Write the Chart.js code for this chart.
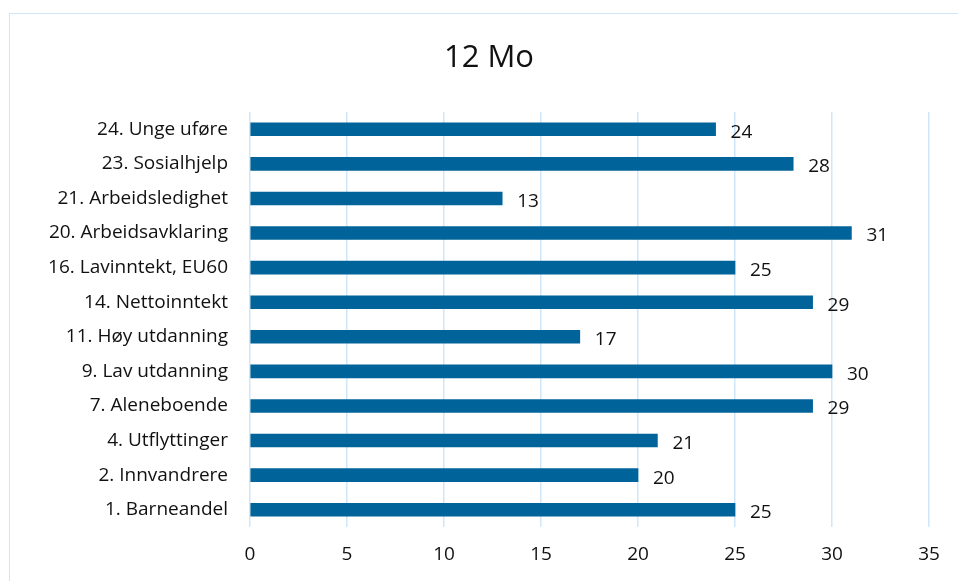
<!DOCTYPE html>
<html lang="no">
<head>
  <meta charset="UTF-8">
  <title>12 Mo</title>
  <script src="https://cdn.jsdelivr.net/npm/chart.js"></script>
  <style>
    body {
      margin: 0;
      background: #fff;
      overflow: hidden;
    }
    .frame {
      position: absolute;
      left: 9px;
      top: 13px;
      width: 980px;
      height: 600px;
      border-left: 1px solid #cfe6f8;
      border-top: 1px solid #cfe6f8;
    }
    canvas {
      position: absolute;
      left: 0;
      top: 0;
    }
  </style>
</head>
<body>
  <div class="frame"></div>
  <canvas id="chart" width="958" height="581"></canvas>

  <script>
    const categories = [
      '24. Unge uføre',
      '23. Sosialhjelp',
      '21. Arbeidsledighet',
      '20. Arbeidsavklaring',
      '16. Lavinntekt, EU60',
      '14. Nettoinntekt',
      '11. Høy utdanning',
      '9. Lav utdanning',
      '7. Aleneboende',
      '4. Utflyttinger',
      '2. Innvandrere',
      '1. Barneandel'
    ];
    const values = [24, 28, 13, 31, 25, 29, 17, 30, 29, 21, 20, 25];
    const xTicks = [0, 5, 10, 15, 20, 25, 30, 35];
    const chartTitle = '12 Mo';

    const FONT = '"Open Sans", Lato, sans-serif';

    // title is centred on the outer frame, not the canvas, so draw it here
    const frameTitle = {
      id: 'frameTitle',
      afterDraw(chart) {
        const ctx = chart.ctx;
        ctx.save();
        ctx.font = '31px ' + FONT;
        ctx.fillStyle = '#111';
        ctx.textAlign = 'center';
        ctx.textBaseline = 'middle';
        ctx.fillText(chartTitle, 489, 58);
        ctx.restore();
      }
    };

    // value labels right of each bar
    const valueLabels = {
      id: 'valueLabels',
      afterDatasetsDraw(chart) {
        const ctx = chart.ctx;
        const meta = chart.getDatasetMeta(0);
        ctx.save();
        ctx.font = '19px ' + FONT;
        ctx.fillStyle = '#111';
        ctx.textAlign = 'left';
        ctx.textBaseline = 'middle';
        meta.data.forEach((bar, i) => {
          ctx.fillText(values[i], bar.x + 15, bar.y + 3);
        });
        ctx.restore();
      }
    };

    new Chart(document.getElementById('chart'), {
      type: 'bar',
      data: {
        labels: categories,
        datasets: [{
          data: values,
          backgroundColor: '#00639a',
          barThickness: 13
        }]
      },
      options: {
        indexAxis: 'y',
        responsive: false,
        animation: false,
        layout: { padding: { left: 0, right: 29, top: 112, bottom: 0 } },
        plugins: {
          legend: { display: false },
          tooltip: { enabled: false },
          title: { display: false }
        },
        scales: {
          x: {
            min: 0,
            max: 35,
            afterBuildTicks(scale) {
              scale.ticks = xTicks.map(v => ({ value: v }));
            },
            afterFit(scale) { scale.height = 54; },
            grid: { color: '#d0e7f9', lineWidth: 1.5, drawTicks: false },
            border: { display: false },
            ticks: {
              color: '#111',
              padding: 16,
              font: { family: FONT, size: 19 }
            }
          },
          y: {
            afterFit(scale) { scale.width = 250; },
            grid: { display: false, drawTicks: false },
            border: { display: false },
            ticks: {
              color: '#111',
              padding: 22,
              font: { family: FONT, size: 19 }
            }
          }
        }
      },
      plugins: [valueLabels, frameTitle]
    });
  </script>
</body>
</html>
